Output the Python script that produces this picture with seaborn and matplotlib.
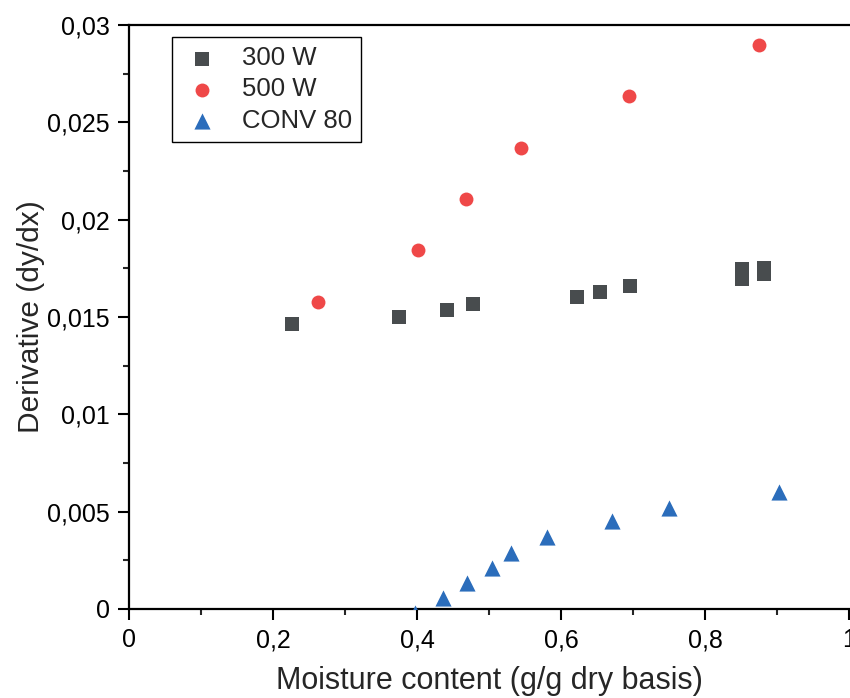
"""Derivative vs moisture content for the three drying conditions."""

import pandas as pd
import matplotlib
matplotlib.use("Agg")
import matplotlib.pyplot as plt
from matplotlib.ticker import MultipleLocator, FuncFormatter
import seaborn as sns

# 300 W microwave
x_300 = [0.226, 0.375, 0.442, 0.478, 0.622, 0.654, 0.696, 0.851, 0.851, 0.882, 0.882]
y_300 = [0.01464, 0.0150, 0.01536, 0.01567, 0.01603, 0.01628, 0.01659,
         0.01693, 0.01749, 0.01721, 0.01752]

# 500 W microwave
x_500 = [0.2625, 0.401, 0.468, 0.544, 0.694, 0.875]
y_500 = [0.01577, 0.01844, 0.02106, 0.02368, 0.02635, 0.02897]

# convective drying at 80
x_conv = [0.397, 0.436, 0.469, 0.504, 0.531, 0.580, 0.671, 0.750, 0.903]
y_conv = [-0.0002, 0.00057, 0.00134, 0.0021, 0.0029, 0.0037, 0.0045, 0.0052, 0.0060]

labels = ["300 W", "500 W", "CONV 80"]
colors = ["#484c4e", "#ef4848", "#2b6dbb"]
markers = ["s", "o", "^"]
sizes = [90, 100, 135]

sns.set_style("ticks")
plt.rcParams["font.family"] = ["Liberation Sans", "DejaVu Sans"]


def comma_fmt(v, pos):
    """Decimal comma tick labels."""
    return f"{v:g}".replace(".", ",")


fig = plt.figure(figsize=(8.5, 6.98), dpi=100)
ax = fig.add_axes([129 / 850, 89 / 698, 720 / 850, 584 / 698])

series = [(x_300, y_300), (x_500, y_500), (x_conv, y_conv)]
for (xs, ys), lab, col, mk, sz in zip(series, labels, colors, markers, sizes):
    df = pd.DataFrame({"x": xs, "y": ys})
    sns.scatterplot(data=df, x="x", y="y", ax=ax, color=col, marker=mk,
                    s=sz, linewidth=0, label=lab, zorder=3)

ax.set_xlim(0, 1)
ax.set_ylim(0, 0.03)
ax.xaxis.set_major_locator(MultipleLocator(0.2))
ax.xaxis.set_minor_locator(MultipleLocator(0.1))
ax.yaxis.set_major_locator(MultipleLocator(0.005))
ax.yaxis.set_minor_locator(MultipleLocator(0.0025))
ax.xaxis.set_major_formatter(FuncFormatter(comma_fmt))
ax.yaxis.set_major_formatter(FuncFormatter(comma_fmt))

ax.tick_params(which="major", direction="out", length=8, width=1.5,
               labelsize=18, colors="black")
ax.tick_params(axis="y", which="major", pad=6)
ax.tick_params(axis="x", which="major", pad=6)
ax.tick_params(which="minor", direction="out", length=4, width=1.5)

for side in ["left", "bottom", "top"]:
    ax.spines[side].set_linewidth(1.6)
    ax.spines[side].set_color("black")
ax.spines["right"].set_visible(False)

ax.set_xlabel("Moisture content (g/g dry basis)", fontsize=22, labelpad=10)
ax.set_ylabel("Derivative (dy/dx)", fontsize=21.5, labelpad=1)

leg = ax.legend(loc="upper left", bbox_to_anchor=(0.06, 0.979),
                borderaxespad=0, fontsize=18.5, frameon=True, fancybox=False,
                framealpha=1, edgecolor="black", handletextpad=0.75,
                labelspacing=0.28, borderpad=0.35, handlelength=1.6)
leg.get_frame().set_linewidth(1.0)

fig.savefig("out.png", dpi=100)
